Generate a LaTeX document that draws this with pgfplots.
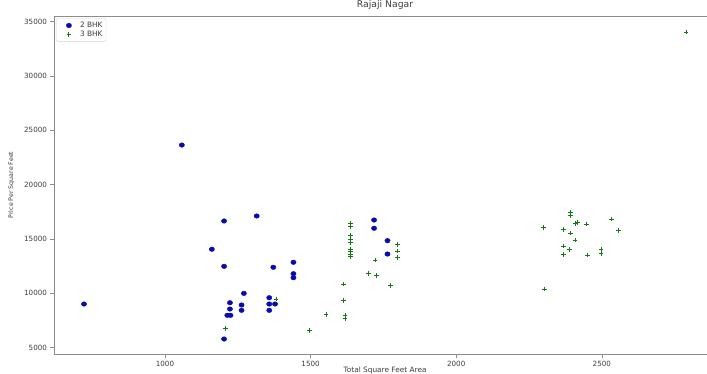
\documentclass[border=0pt]{standalone}
\usepackage{pgfplots}
\pgfplotsset{compat=1.18}
\usepackage{fontspec}
\setmainfont{DejaVu Sans}
\definecolor{mblue}{RGB}{10,10,175}
\definecolor{mgreen}{RGB}{20,120,20}
\definecolor{spine}{RGB}{140,140,140}
\definecolor{txt}{RGB}{60,60,60}
\begin{document}
\begin{tikzpicture}
\begin{axis}[
  scale only axis,
  width=653bp, height=338bp,
  xmin=619, xmax=2861,
  ymin=4420, ymax=35525,
  axis x line*=box,
  axis y line*=left,
  xtick={1000,1500,2000,2500},
  ytick={5000,10000,15000,20000,25000,30000,35000},
  scaled y ticks=false, scaled x ticks=false,
  xtick pos=left, ytick pos=left,
  tick align=outside,
  major tick length=3.5bp,
  axis line style={spine, line width=0.6pt},
  every tick/.style={spine, line width=0.5pt},
  /pgf/number format/assume math mode=true,
  /pgf/number format/1000 sep={},
  ticklabel style={font=\fontsize{7.2}{8}\selectfont, text=txt},
  xticklabel style={yshift=-0.5bp},
  title={Rajaji Nagar},
  title style={font=\fontsize{9.3}{10}\selectfont, text=txt, at={(rel axis cs:0.507,1)}, anchor=base, yshift=2.7bp},
  xlabel={Total Square Feet Area},
  xlabel style={font=\fontsize{7.4}{8}\selectfont, text=txt, at={(rel axis cs:0.507,0)}, anchor=base, yshift=-18bp},
  ylabel={Price Per Square Feet},
  ylabel style={font=\fontsize{6.3}{7}\selectfont, text=txt},
  ylabel shift=3bp,
  legend style={at={(rel axis cs:0,1)}, anchor=north west, xshift=2bp, yshift=-2.3bp,
    font=\fontsize{7.4}{7.4}\selectfont, text=txt, draw=gray!35, rounded corners=1.5pt,
    inner sep=1.5pt, row sep=-2pt},
  legend cell align=left,
  legend image code/.code={\path (0bp,0bp) (20bp,0bp); \draw[#1] plot coordinates {(11bp,0bp)};},
]
\addplot[only marks, mark=*, mark size=2.3pt, mblue, mark options={fill=mblue, draw=mblue, xscale=1.15}] coordinates {
(722,9020) (1058,23650) (1161,14060) (1203,16660) (1203,12490) (1203,5800)
(1214,7980) (1225,7980) (1223,9140) (1223,8560) (1263,8930) (1263,8440)
(1271,10000) (1315,17120) (1358,9600) (1358,9020) (1358,8440) (1372,12400)
(1378,9020) (1441,12860) (1441,11810) (1441,11440) (1718,16750) (1718,15990)
(1764,14850) (1764,13620)
};
\addlegendentry{2 BHK}
\addplot[only marks, mark=+, mark size=2.4pt, mgreen, mark options={line width=0.85pt}] coordinates {
(1209,6750) (1381,9480) (1497,6600) (1553,8070) (1612,10860) (1612,9350)
(1618,8010) (1618,7700) (1638,16450) (1638,16150) (1638,15300) (1638,15000)
(1638,14700) (1638,14050) (1638,13850) (1638,13600) (1638,13400) (1698,11850)
(1721,13070) (1727,11630) (1775,10710) (1799,14516) (1799,13900) (1799,13320)
(2299,16080) (2302,10400) (2368,15860) (2368,14360) (2368,13600) (2389,14055)
(2391,17424) (2391,17148) (2391,15560) (2408,16450) (2416,16540) (2408,14910)
(2446,16380) (2450,13530) (2497,14055) (2497,13690) (2534,16840) (2558,15800)
(2789,34054)
};
\addlegendentry{3 BHK}
\end{axis}
\pgfresetboundingbox
\path[use as bounding box] (-54bp,-20bp) rectangle (653bp,354bp);
\end{tikzpicture}
\end{document}
